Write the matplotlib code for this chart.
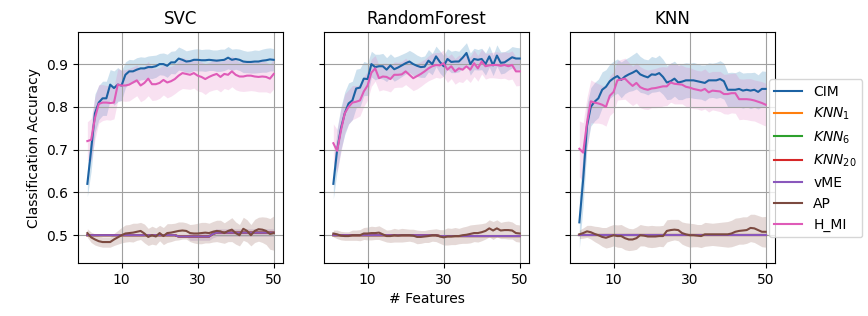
import numpy as np
import matplotlib
matplotlib.use("Agg")
import matplotlib.pyplot as plt

features = np.arange(1, 51)
panels = ["SVC", "RandomForest", "KNN"]
methods = ["CIM", "$KNN_1$", "$KNN_6$", "$KNN_{20}$", "vME", "AP", "H_MI"]

# ---------------- SVC ----------------
svc_cim = [0.62, 0.70, 0.785, 0.81, 0.82, 0.82, 0.852, 0.844, 0.852, 0.85,
           0.875, 0.883, 0.883, 0.887, 0.89, 0.89, 0.893, 0.893, 0.895, 0.90,
           0.90, 0.896, 0.904, 0.904, 0.913, 0.91, 0.906, 0.907, 0.91, 0.91,
           0.909, 0.909, 0.91, 0.909, 0.908, 0.909, 0.91, 0.915, 0.91, 0.912,
           0.91, 0.906, 0.905, 0.905, 0.906, 0.906, 0.908, 0.909, 0.911, 0.91]
svc_cim_sd = [0.03, 0.05, 0.045, 0.04, 0.04, 0.04, 0.035, 0.04, 0.04, 0.035,
              0.03, 0.028, 0.027, 0.028, 0.027, 0.026, 0.026, 0.027, 0.026, 0.025,
              0.026, 0.027, 0.026, 0.027, 0.027, 0.026, 0.025, 0.026, 0.025, 0.026,
              0.025, 0.026, 0.025, 0.024, 0.025, 0.026, 0.025, 0.026, 0.025, 0.024,
              0.025, 0.026, 0.025, 0.026, 0.027, 0.026, 0.027, 0.028, 0.027, 0.026]
svc_hmi = [0.72, 0.723, 0.774, 0.807, 0.81, 0.81, 0.809, 0.81, 0.852, 0.85,
           0.85, 0.852, 0.857, 0.862, 0.85, 0.856, 0.866, 0.853, 0.853, 0.856,
           0.863, 0.857, 0.86, 0.865, 0.873, 0.879, 0.877, 0.875, 0.879, 0.873,
           0.87, 0.865, 0.87, 0.874, 0.877, 0.87, 0.877, 0.875, 0.883, 0.875,
           0.871, 0.871, 0.873, 0.873, 0.871, 0.87, 0.871, 0.87, 0.866, 0.877]
svc_hmi_sd = [0.045, 0.05, 0.05, 0.045, 0.042, 0.04, 0.04, 0.038, 0.037, 0.036,
              0.037, 0.038, 0.037, 0.036, 0.038, 0.039, 0.04, 0.038, 0.037, 0.036,
              0.035, 0.036, 0.035, 0.034, 0.035, 0.036, 0.035, 0.034, 0.035, 0.036,
              0.035, 0.036, 0.034, 0.035, 0.036, 0.035, 0.034, 0.035, 0.036, 0.035,
              0.034, 0.035, 0.036, 0.035, 0.034, 0.035, 0.036, 0.035, 0.034, 0.035]
svc_ap = [0.505, 0.495, 0.49, 0.486, 0.484, 0.484, 0.484, 0.49, 0.495, 0.50,
          0.504, 0.505, 0.506, 0.508, 0.51, 0.504, 0.496, 0.50, 0.497, 0.505,
          0.498, 0.505, 0.506, 0.508, 0.51, 0.511, 0.51, 0.505, 0.504, 0.504,
          0.505, 0.506, 0.505, 0.508, 0.51, 0.509, 0.505, 0.51, 0.513, 0.505,
          0.50, 0.515, 0.51, 0.50, 0.51, 0.514, 0.513, 0.51, 0.503, 0.505]
svc_ap_sd = [0.01, 0.012, 0.013, 0.012, 0.012, 0.012, 0.012, 0.014, 0.016, 0.018,
             0.02, 0.02, 0.022, 0.02, 0.02, 0.022, 0.02, 0.021, 0.02, 0.018,
             0.02, 0.022, 0.021, 0.02, 0.021, 0.02, 0.019, 0.02, 0.022, 0.024,
             0.025, 0.024, 0.023, 0.024, 0.025, 0.026, 0.024, 0.025, 0.028, 0.026,
             0.025, 0.027, 0.026, 0.025, 0.027, 0.028, 0.03, 0.032, 0.036, 0.04]
svc_vme = [0.5] * 24 + [0.497] * 9 + [0.503] + [0.506] * 16
svc_vme_sd = [0.0] * 27 + [0.009] * 23

# ---------------- RandomForest ----------------
rf_cim = [0.62, 0.70, 0.75, 0.785, 0.808, 0.815, 0.843, 0.845, 0.866, 0.865,
          0.90, 0.893, 0.895, 0.895, 0.887, 0.897, 0.888, 0.892, 0.897, 0.902,
          0.906, 0.90, 0.896, 0.893, 0.894, 0.908, 0.90, 0.918, 0.905, 0.895,
          0.912, 0.905, 0.906, 0.906, 0.915, 0.926, 0.90, 0.912, 0.91, 0.912,
          0.90, 0.918, 0.897, 0.92, 0.903, 0.904, 0.91, 0.916, 0.913, 0.913]
rf_cim_sd = [0.035, 0.05, 0.05, 0.05, 0.048, 0.045, 0.045, 0.045, 0.04, 0.038,
             0.03, 0.03, 0.028, 0.03, 0.028, 0.027, 0.028, 0.027, 0.026, 0.025,
             0.026, 0.027, 0.025, 0.024, 0.025, 0.026, 0.025, 0.024, 0.026, 0.025,
             0.024, 0.025, 0.026, 0.024, 0.025, 0.024, 0.026, 0.025, 0.024, 0.025,
             0.026, 0.025, 0.024, 0.025, 0.026, 0.025, 0.024, 0.025, 0.026, 0.025]
rf_hmi = [0.715, 0.697, 0.745, 0.785, 0.80, 0.81, 0.812, 0.815, 0.836, 0.85,
          0.88, 0.89, 0.867, 0.871, 0.87, 0.865, 0.875, 0.875, 0.876, 0.883,
          0.875, 0.867, 0.872, 0.877, 0.883, 0.89, 0.895, 0.898, 0.897, 0.902,
          0.887, 0.895, 0.883, 0.89, 0.887, 0.895, 0.887, 0.902, 0.89, 0.906,
          0.895, 0.897, 0.898, 0.898, 0.896, 0.898, 0.895, 0.898, 0.883, 0.883]
rf_hmi_sd = [0.045, 0.05, 0.05, 0.045, 0.04, 0.04, 0.038, 0.036, 0.035, 0.034,
             0.032, 0.03, 0.03, 0.031, 0.032, 0.03, 0.03, 0.029, 0.03, 0.031,
             0.03, 0.029, 0.03, 0.029, 0.028, 0.029, 0.03, 0.029, 0.03, 0.031,
             0.03, 0.029, 0.03, 0.031, 0.03, 0.029, 0.03, 0.031, 0.03, 0.029,
             0.03, 0.029, 0.03, 0.031, 0.03, 0.031, 0.032, 0.033, 0.034, 0.033]
rf_ap = [0.504, 0.502, 0.499, 0.498, 0.498, 0.50, 0.50, 0.50, 0.504, 0.504,
         0.505, 0.505, 0.506, 0.502, 0.498, 0.498, 0.50, 0.499, 0.50, 0.50,
         0.50, 0.499, 0.496, 0.496, 0.497, 0.498, 0.50, 0.50, 0.497, 0.495,
         0.497, 0.497, 0.498, 0.498, 0.50, 0.501, 0.503, 0.505, 0.505, 0.507,
         0.51, 0.516, 0.511, 0.516, 0.511, 0.512, 0.512, 0.511, 0.505, 0.504]
rf_ap_sd = [0.008, 0.01, 0.01, 0.01, 0.01, 0.012, 0.012, 0.013, 0.014, 0.015,
            0.016, 0.015, 0.016, 0.015, 0.014, 0.015, 0.016, 0.015, 0.016, 0.015,
            0.014, 0.015, 0.016, 0.015, 0.014, 0.015, 0.014, 0.015, 0.016, 0.018,
            0.02, 0.019, 0.02, 0.018, 0.019, 0.02, 0.021, 0.02, 0.021, 0.02,
            0.019, 0.02, 0.021, 0.02, 0.019, 0.02, 0.021, 0.02, 0.02, 0.02]
rf_vme = [0.5] * 28 + [0.498] * 22
rf_vme_sd = [0.0] * 50

# ---------------- KNN ----------------
knn_cim = [0.53, 0.63, 0.755, 0.80, 0.812, 0.82, 0.84, 0.847, 0.86, 0.867,
           0.872, 0.863, 0.871, 0.876, 0.88, 0.885, 0.876, 0.872, 0.869, 0.876,
           0.875, 0.879, 0.87, 0.857, 0.86, 0.866, 0.857, 0.859, 0.862, 0.862,
           0.862, 0.86, 0.858, 0.856, 0.862, 0.862, 0.862, 0.865, 0.86, 0.84,
           0.84, 0.84, 0.842, 0.838, 0.84, 0.838, 0.84, 0.835, 0.842, 0.842]
knn_cim_sd = [0.06, 0.06, 0.05, 0.045, 0.045, 0.045, 0.042, 0.04, 0.04, 0.04,
              0.04, 0.042, 0.04, 0.04, 0.042, 0.043, 0.042, 0.04, 0.041, 0.042,
              0.04, 0.042, 0.041, 0.04, 0.042, 0.041, 0.04, 0.042, 0.041, 0.04,
              0.042, 0.041, 0.04, 0.042, 0.041, 0.04, 0.042, 0.043, 0.042, 0.04,
              0.041, 0.04, 0.042, 0.041, 0.04, 0.042, 0.041, 0.04, 0.042, 0.041]
knn_hmi = [0.702, 0.693, 0.762, 0.813, 0.81, 0.808, 0.805, 0.80, 0.826, 0.835,
           0.862, 0.864, 0.866, 0.857, 0.849, 0.856, 0.846, 0.842, 0.84, 0.843,
           0.844, 0.846, 0.848, 0.848, 0.857, 0.854, 0.853, 0.852, 0.847, 0.845,
           0.842, 0.84, 0.838, 0.842, 0.834, 0.838, 0.837, 0.836, 0.83, 0.83,
           0.832, 0.832, 0.818, 0.818, 0.818, 0.817, 0.815, 0.812, 0.809, 0.805]
knn_hmi_sd = [0.065, 0.07, 0.06, 0.05, 0.048, 0.046, 0.045, 0.045, 0.046, 0.047,
              0.046, 0.047, 0.048, 0.047, 0.046, 0.047, 0.048, 0.047, 0.046, 0.045,
              0.046, 0.047, 0.046, 0.045, 0.046, 0.047, 0.046, 0.045, 0.046, 0.047,
              0.046, 0.045, 0.046, 0.047, 0.046, 0.045, 0.046, 0.047, 0.046, 0.047,
              0.046, 0.047, 0.048, 0.047, 0.048, 0.049, 0.048, 0.049, 0.05, 0.05]
knn_ap = [0.502, 0.505, 0.509, 0.507, 0.503, 0.50, 0.496, 0.494, 0.497, 0.50,
          0.498, 0.498, 0.493, 0.49, 0.49, 0.493, 0.50, 0.499, 0.497, 0.497,
          0.497, 0.498, 0.498, 0.51, 0.512, 0.513, 0.512, 0.505, 0.502, 0.50,
          0.50, 0.499, 0.498, 0.502, 0.502, 0.502, 0.502, 0.502, 0.502, 0.502,
          0.504, 0.508, 0.51, 0.511, 0.512, 0.517, 0.516, 0.512, 0.508, 0.508]
knn_ap_sd = [0.01, 0.012, 0.014, 0.016, 0.018, 0.02, 0.022, 0.024, 0.025, 0.025,
             0.026, 0.027, 0.027, 0.026, 0.025, 0.026, 0.025, 0.024, 0.025, 0.026,
             0.025, 0.024, 0.025, 0.026, 0.025, 0.024, 0.025, 0.026, 0.027, 0.028,
             0.027, 0.026, 0.027, 0.028, 0.027, 0.026, 0.027, 0.028, 0.029, 0.03,
             0.031, 0.032, 0.031, 0.032, 0.031, 0.032, 0.033, 0.034, 0.035, 0.036]
knn_vme = [0.5] * 50
knn_vme_sd = [0.0] * 50

panel_data = {
    "SVC": dict(cim=svc_cim, cim_sd=svc_cim_sd, hmi=svc_hmi, hmi_sd=svc_hmi_sd,
                ap=svc_ap, ap_sd=svc_ap_sd, vme=svc_vme, vme_sd=svc_vme_sd),
    "RandomForest": dict(cim=rf_cim, cim_sd=rf_cim_sd, hmi=rf_hmi, hmi_sd=rf_hmi_sd,
                         ap=rf_ap, ap_sd=rf_ap_sd, vme=rf_vme, vme_sd=rf_vme_sd),
    "KNN": dict(cim=knn_cim, cim_sd=knn_cim_sd, hmi=knn_hmi, hmi_sd=knn_hmi_sd,
                ap=knn_ap, ap_sd=knn_ap_sd, vme=knn_vme, vme_sd=knn_vme_sd),
}

fill_colors = {"CIM": "#1f77b4", "KNN1": "#ff7f0e", "KNN6": "#2ca02c", "KNN20": "#d62728",
               "vME": "#9467bd", "AP": "#8c564b", "H_MI": "#e377c2"}
line_colors = {"CIM": "#1c62a3", "KNN1": "#ff7f0e", "KNN6": "#2ca02c", "KNN20": "#d62728",
               "vME": "#8a58bc", "AP": "#7c4a40", "H_MI": "#df5bb8"}

fig, axes = plt.subplots(1, 3, figsize=(8.68, 3.16), dpi=100, sharey=True)
fig.subplots_adjust(left=0.0899, right=0.8929, top=0.8987, bottom=0.1677, wspace=0.2)

x = features
for ax, name in zip(axes, panels):
    d = panel_data[name]
    series = [
        ("CIM", "CIM", d["cim"], d["cim_sd"]),
        ("KNN1", "$KNN_1$", d["vme"], None),
        ("KNN6", "$KNN_6$", d["vme"], None),
        ("KNN20", "$KNN_{20}$", d["vme"], None),
        ("vME", "vME", d["vme"], d["vme_sd"]),
        ("AP", "AP", d["ap"], d["ap_sd"]),
        ("H_MI", "H_MI", d["hmi"], d["hmi_sd"]),
    ]
    for key, label, m, sd in series:
        m = np.asarray(m)
        if sd is not None:
            sd = np.asarray(sd)
            if sd.max() > 0:
                ax.fill_between(x, m - sd, m + sd, color=fill_colors[key],
                                alpha=0.22, linewidth=0)
        ax.plot(x, m, color=line_colors[key], lw=1.5, label=label)
    ax.set_title(name, fontsize=12)
    ax.set_xticks([10, 30, 50])
    ax.grid(True, color="#a0a0a0", linewidth=0.8)
    ax.tick_params(labelsize=10)

axes[0].set_ylim(0.435, 0.975)
axes[0].set_yticks([0.5, 0.6, 0.7, 0.8, 0.9])
axes[0].set_ylabel("Classification Accuracy", fontsize=10)
axes[1].set_xlabel("# Features", fontsize=10)

axes[2].legend(loc="upper left", bbox_to_anchor=(0.97, 0.795), borderaxespad=0,
               fontsize=10, framealpha=0.8)

fig.savefig("out.png", dpi=100)
